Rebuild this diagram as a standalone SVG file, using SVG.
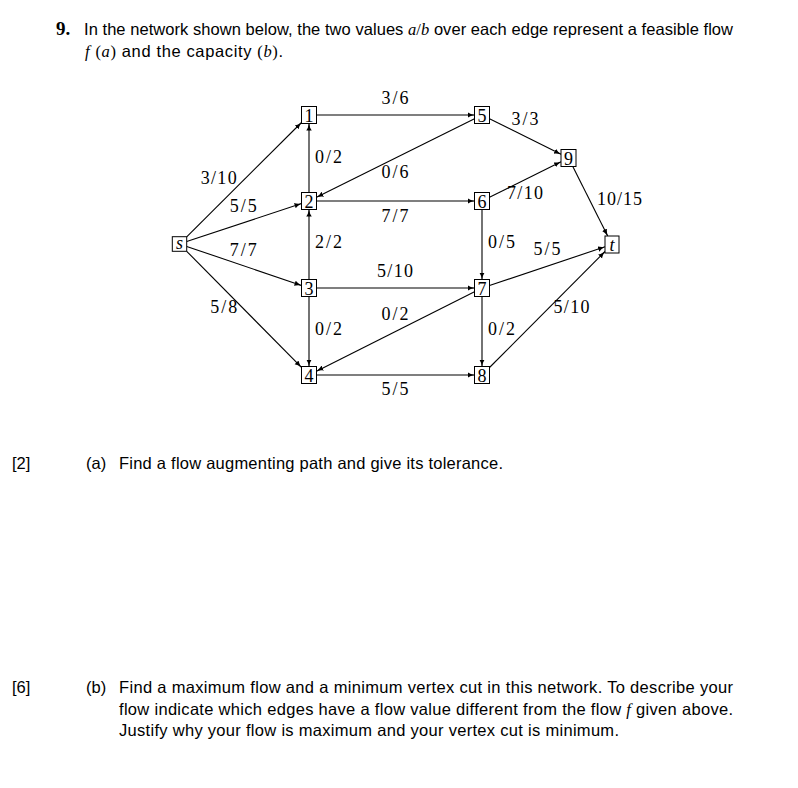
<svg xmlns="http://www.w3.org/2000/svg" width="798" height="788" viewBox="0 0 798 788">
<style>
.bg{fill:#fff}
.sans{font-family:"Liberation Sans",Arial,sans-serif;font-size:16.5px;fill:#000}
.ser{font-family:"Liberation Serif","Times New Roman",serif}
.it{font-family:"Liberation Serif","Times New Roman",serif;font-style:italic}
.num{font-family:"Liberation Serif","Times New Roman",serif;font-weight:bold;font-size:19px}
.box{fill:#fff;stroke:#000;stroke-width:1}
.nl{font-family:"Liberation Serif","Times New Roman",serif;font-size:18px;text-anchor:middle;fill:#000}
.e{stroke:#000;stroke-width:1.1;fill:none;marker-end:url(#ah)}
.lbl{font-family:"Liberation Serif","Times New Roman",serif;font-size:18px;fill:#000}
.mid{text-anchor:middle}
</style>
<defs>
<marker id="ah" markerUnits="userSpaceOnUse" markerWidth="10" markerHeight="8" refX="7" refY="2.75" orient="auto">
<path d="M0,0 Q2.5,1.9 7,2.75 Q2.5,3.6 0,5.5 Z" fill="#000"/>
</marker>
</defs>
<rect class="bg" width="798" height="788"/>

<g id="question">
<text class="num" x="56" y="35">9.</text>
<text class="sans" x="84" y="35" textLength="649" lengthAdjust="spacing">In the network shown below, the two values <tspan class="it">a</tspan><tspan class="ser">/</tspan><tspan class="it">b</tspan> over each edge represent a feasible flow</text>
<text class="sans" x="85" y="57" textLength="198" lengthAdjust="spacing"><tspan class="it">f</tspan> <tspan class="ser">(</tspan><tspan class="it">a</tspan><tspan class="ser">)</tspan> and the capacity <tspan class="ser">(</tspan><tspan class="it">b</tspan><tspan class="ser">)</tspan>.</text>
</g>

<g id="connectors">
<line class="e" x1="186.7" y1="236.8" x2="301.5" y2="122.5"/>
<line class="e" x1="186.7" y1="241.6" x2="301.5" y2="203.5"/>
<line class="e" x1="186.7" y1="246.4" x2="301.5" y2="285.5"/>
<line class="e" x1="186.7" y1="251.3" x2="301.5" y2="367.4"/>
<line class="e" x1="309" y1="192.5" x2="309" y2="123.5"/>
<line class="e" x1="309" y1="279.5" x2="309" y2="209.5"/>
<line class="e" x1="309" y1="296.5" x2="309" y2="366.5"/>
<line class="e" x1="316.5" y1="115" x2="474.5" y2="115"/>
<line class="e" x1="474.5" y1="118.7" x2="316.5" y2="197.3"/>
<line class="e" x1="316.5" y1="201" x2="474.5" y2="201"/>
<line class="e" x1="316.5" y1="288" x2="474.5" y2="288"/>
<line class="e" x1="474.5" y1="291.8" x2="316.5" y2="371.2"/>
<line class="e" x1="316.5" y1="375" x2="474.5" y2="375"/>
<line class="e" x1="489.5" y1="118.7" x2="561" y2="154.3"/>
<line class="e" x1="489.5" y1="197.3" x2="561" y2="161.7"/>
<line class="e" x1="572.8" y1="166.5" x2="607.7" y2="236"/>
<line class="e" x1="482" y1="209.5" x2="482" y2="279.5"/>
<line class="e" x1="482" y1="296.5" x2="482" y2="366.5"/>
<line class="e" x1="489.5" y1="285.5" x2="605" y2="246.8"/>
<line class="e" x1="489.5" y1="367.5" x2="605" y2="251.5"/>
</g>

<g id="edge-labels">
<text class="lbl mid" x="395" y="104" textLength="27">3/6</text>
<text class="lbl mid" x="395" y="178" textLength="27">0/6</text>
<text class="lbl mid" x="395" y="222" textLength="27">7/7</text>
<text class="lbl mid" x="395" y="277" textLength="36">5/10</text>
<text class="lbl mid" x="395" y="320" textLength="27">0/2</text>
<text class="lbl mid" x="395" y="395" textLength="27">5/5</text>
<text class="lbl mid" x="525" y="125" textLength="27">3/3</text>
<text class="lbl mid" x="525" y="199" textLength="36">7/10</text>
<text class="lbl mid" x="619.5" y="205" textLength="45">10/15</text>
<text class="lbl" x="488" y="248" textLength="27">0/5</text>
<text class="lbl mid" x="547" y="255" textLength="27">5/5</text>
<text class="lbl mid" x="571.5" y="313" textLength="36">5/10</text>
<text class="lbl" x="488" y="335" textLength="27">0/2</text>
<text class="lbl mid" x="218.7" y="184" textLength="36">3/10</text>
<text class="lbl mid" x="243.3" y="212" textLength="27">5/5</text>
<text class="lbl" x="315" y="163" textLength="27">0/2</text>
<text class="lbl" x="315" y="248" textLength="27">2/2</text>
<text class="lbl mid" x="243.3" y="256" textLength="27">7/7</text>
<text class="lbl mid" x="223.7" y="313" textLength="27">5/8</text>
<text class="lbl" x="315" y="335" textLength="27">0/2</text>
</g>

<g id="node-s"><rect class="box" x="172.3" y="236.7" width="14.4" height="14.6"/><text class="nl it" x="179.5" y="249">s</text></g>
<g id="node-1"><rect class="box" x="301.5" y="106.5" width="15" height="17"/><text class="nl" x="309" y="121.5">1</text></g>
<g id="node-2"><rect class="box" x="301.5" y="192.5" width="15" height="17"/><text class="nl" x="309" y="207.5">2</text></g>
<g id="node-3"><rect class="box" x="301.5" y="279.5" width="15" height="17"/><text class="nl" x="309" y="294.5">3</text></g>
<g id="node-4"><rect class="box" x="301.5" y="366.5" width="15" height="17"/><text class="nl" x="309" y="381.5">4</text></g>
<g id="node-5"><rect class="box" x="474.5" y="106.5" width="15" height="17"/><text class="nl" x="482" y="121.5">5</text></g>
<g id="node-6"><rect class="box" x="474.5" y="192.5" width="15" height="17"/><text class="nl" x="482" y="207.5">6</text></g>
<g id="node-7"><rect class="box" x="474.5" y="279.5" width="15" height="17"/><text class="nl" x="482" y="294.5">7</text></g>
<g id="node-8"><rect class="box" x="474.5" y="366.5" width="15" height="17"/><text class="nl" x="482" y="381.5">8</text></g>
<g id="node-9"><rect class="box" x="561" y="149.5" width="15" height="17"/><text class="nl" x="568.5" y="164.5">9</text></g>
<g id="node-t"><rect class="box" x="605" y="236" width="14" height="17"/><text class="nl it" x="612" y="250.5">t</text></g>

<g id="part-a">
<text class="sans" x="12" y="469">[2]</text>
<text class="sans" x="86" y="469">(a)</text>
<text class="sans" x="119" y="469" textLength="384" lengthAdjust="spacing">Find a flow augmenting path and give its tolerance.</text>
</g>

<g id="part-b">
<text class="sans" x="12" y="693">[6]</text>
<text class="sans" x="86" y="693">(b)</text>
<text class="sans" x="119" y="693" textLength="614" lengthAdjust="spacing">Find a maximum flow and a minimum vertex cut in this network.  To describe your</text>
<text class="sans" x="119" y="715" textLength="614" lengthAdjust="spacing">flow indicate which edges have a flow value different from the flow <tspan class="it">f</tspan> given above.</text>
<text class="sans" x="119" y="736" textLength="500" lengthAdjust="spacing">Justify why your flow is maximum and your vertex cut is minimum.</text>
</g>
</svg>
